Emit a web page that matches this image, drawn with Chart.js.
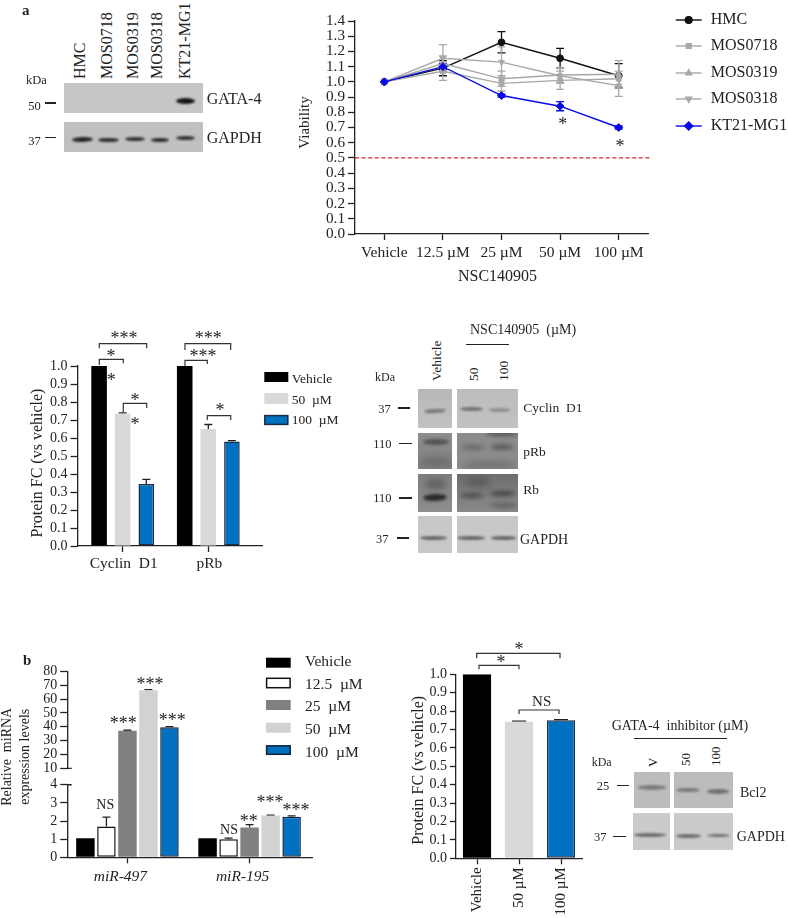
<!DOCTYPE html>
<html><head><meta charset="utf-8">
<script src="https://cdn.jsdelivr.net/npm/chart.js@4"></script>
<style>
html,body{margin:0;padding:0;background:#fff;width:788px;height:918px;overflow:hidden;position:relative;font-family:"Liberation Serif","Times New Roman",serif;color:#222}
canvas{position:absolute;display:block}
.t{position:absolute;white-space:pre;line-height:1;transform:translateY(-50%);opacity:.99}
.r{position:absolute;white-space:pre;line-height:1;transform-origin:0 50%;transform:translateY(-50%) rotate(-90deg)}
.l{position:absolute;background:#222}
.p{position:absolute;overflow:hidden}
.b{position:absolute;border-radius:50%}
</style></head><body>
<script>
/* ---------- data ---------- */
const doseLabels = ['Vehicle','12.5 µM','25 µM','50 µM','100 µM'];
const hmc      = [1.00,1.09,1.26,1.155,1.04];
const hmcErr   = [0,0.05,0.07,0.065,0.08];
const mos0718  = [1.00,1.07,0.99,1.01,1.02];
const mos0718E = [0,0.06,0.05,0.06,0.05];
const mos0319  = [1.00,1.12,1.02,1.045,1.05];
const mos0319E = [0,0.05,0.05,0.05,0.09];
const mos0318  = [1.00,1.155,1.13,1.04,0.975];
const mos0318E = [0,0.09,0.10,0.05,0.07];
const kt21     = [1.00,1.10,0.91,0.84,0.70];
const kt21E    = [0,0.02,0.01,0.03,0.01];
const viabilityThreshold = 0.5;

const proteinGroups = ['Cyclin  D1','pRb'];
const protVehicle = [1.00,1.00], protVehicleE = [0,0];
const prot50      = [0.735,0.65], prot50E = [0.005,0.025];
const prot100     = [0.345,0.58], prot100E = [0.025,0.005];

const mirGroups = ['miR-497','miR-195'];
const mirVehicle = [1.05,1.05], mirVehicleE = [0,0];
const mir125     = [1.70,1.00], mir125E = [0.52,0.06];
const mir25      = [37.2,1.65], mir25E  = [0.3,0.15];
const mir50      = [66.3,2.30], mir50E  = [0.5,0.02];
const mir100     = [39.6,2.23], mir100E = [0.5,0.05];
const mirTicks   = [0,1,2,3,4,10,20,30,40,50,60,70,80];
const mirBreakValues = [0,4,10,80];
const mirBreakFractions = [0,0.39,0.478,1];

const bcl2Labels = ['Vehicle','50 µM','100 µM'];
const bcl2Values = [1.00,0.742,0.75];
const bcl2Errors = [0,0.003,0.004];

/* ---------- setup ---------- */
const FONT='"Liberation Serif","Times New Roman",serif', INK='#222';
Chart.defaults.font.family=FONT; Chart.defaults.color=INK; Chart.defaults.animation=false;
Chart.defaults.responsive=false;
Chart.defaults.plugins.legend.display=false; Chart.defaults.plugins.tooltip.enabled=false;

class BrokenScale extends Chart.LinearScale{
  static id='broken';
  static defaults={};
  buildTicks(){ const t=mirTicks.map(v=>({value:v})); this.min=0; this.max=80; return t; }
  getPixelForValue(v){
    const V=mirBreakValues,F=mirBreakFractions; let i=0;
    while(i<V.length-2&&v>V[i+1]) i++;
    return this.getPixelForDecimal(F[i]+(v-V[i])/(V[i+1]-V[i])*(F[i+1]-F[i]));
  }
}
Chart.register(BrokenScale);

function text(ctx,s,x,y,size,align,style){
  ctx.font=(style?style+' ':'')+size+'px '+FONT; ctx.fillStyle=INK;
  ctx.textAlign=align||'left'; ctx.textBaseline='middle'; ctx.fillText(s,x,y);
}
function star(ctx,s,x,y,size){
  size=size||18; ctx.font=size+'px '+FONT; ctx.fillStyle=INK;
  ctx.textAlign='center'; ctx.textBaseline='alphabetic'; ctx.fillText(s,x,y+0.47*size);
}
function bracket(ctx,x0,x1,y,e0,e1){
  ctx.strokeStyle='#333'; ctx.lineWidth=1.2; ctx.setLineDash([]);
  ctx.beginPath(); ctx.moveTo(x0,e0); ctx.lineTo(x0,y); ctx.lineTo(x1,y); ctx.lineTo(x1,e1); ctx.stroke();
}
function barLegend(ctx,chart,rows,x,w,tx,size){
  chart.data.datasets.forEach((d,i)=>{
    const r=rows[i];
    ctx.fillStyle=d.backgroundColor; ctx.fillRect(x,r[0],w,r[1]);
    if(d.borderWidth){ctx.strokeStyle=d.borderColor;ctx.lineWidth=d.borderWidth;ctx.strokeRect(x+.6,r[0]+.6,w-1.2,r[1]-1.2);}
    text(ctx,d.label.replace(' ','  '),tx,r[2],size);
  });
}
const errorBars={id:'errorBars',beforeDatasetsDraw(chart){
  const ctx=chart.ctx,y=chart.scales.y; ctx.save();
  const idx=chart.data.datasets.map((d,i)=>i).sort((a,b)=>(chart.data.datasets[b].order||0)-(chart.data.datasets[a].order||0));
  idx.forEach(i=>{
    const d=chart.data.datasets[i]; if(!d.errors) return;
    const meta=chart.getDatasetMeta(i), vals=d.values;
    ctx.strokeStyle=d.errorColor||INK; ctx.lineWidth=d.errorWidth||1.3;
    const caps=Array.isArray(d.cap)?d.cap:null;
    meta.data.forEach((el,k)=>{
      const e=d.errors[k]; if(!e) return;
      const x=el.x, hi=y.getPixelForValue(vals[k]+e), lo=d.both?y.getPixelForValue(vals[k]-e):y.getPixelForValue(vals[k]);
      const c=(caps?caps[k]:d.cap||8)/2;
      ctx.beginPath(); ctx.moveTo(x,lo); ctx.lineTo(x,hi);
      ctx.moveTo(x-c,hi); ctx.lineTo(x+c,hi);
      if(d.both){ctx.moveTo(x-c,lo); ctx.lineTo(x+c,lo);}
      ctx.stroke();
    });
  });
  ctx.restore();
}};
function makeChart(c){
  const cv=document.createElement('canvas'); const R=c.rect,P=c.plot;
  cv.width=R.w; cv.height=R.h; cv.style.left=R.l+'px'; cv.style.top=R.t+'px';
  document.body.appendChild(cv);
  const fit=(s)=>{ if(s.isHorizontal()) s.height=c.xH; else s.width=c.yW; };
  c.options.scales.x.afterFit=fit; c.options.scales.y.afterFit=fit;
  c.options.layout={padding:{left:P.l-R.l-c.yW,top:P.t-R.t,right:R.l+R.w-P.r,bottom:R.t+R.h-P.b-c.xH}};
  return new Chart(cv.getContext('2d'),{type:c.type,data:c.data,options:c.options,plugins:[errorBars,{
    id:'page',
    afterLayout(chart){
      const shift=(s,d)=>{ if(!d) return; const o=s.drawTitle;
        s.drawTitle=function(){const k=this.isHorizontal()?['left','right']:['top','bottom'];
          this[k[0]]+=d;this[k[1]]+=d;o.call(this);this[k[0]]-=d;this[k[1]]-=d;}; };
      if(!chart.$shifted){chart.$shifted=1;
        shift(chart.scales.x,c.titleShiftX); shift(chart.scales.y,c.titleShiftY);}
    },
    afterDraw(chart){
      const ctx=chart.ctx;
      if(c.scaleDraw){ctx.save();c.scaleDraw(ctx,chart);ctx.restore();}
      ctx.save();ctx.translate(-R.l,-R.t);c.annotate(ctx,chart);ctx.restore();
    }}]});
}
const axisLine={color:INK,width:1.3};
const grid=(len)=>({drawOnChartArea:false,drawTicks:true,tickLength:len,tickColor:INK,tickWidth:1.3,offset:false});

/* ---------- a: viability ---------- */
const GREY='#a8a8a8';
const lineSet=(label,values,errors,color,style,order,extra)=>Object.assign({label,data:values,values,errors,both:true,cap:8,
  borderColor:color,backgroundColor:color,borderWidth:1.4,pointRadius:3.4,pointStyle:style,pointBorderWidth:1,
  errorColor:color,tension:0,order},extra||{});
makeChart({rect:{l:290,t:0,w:498,h:300},plot:{l:355,t:21,r:648,b:234},yW:59,xH:52.6,titleShiftX:-4,titleShiftY:-5,
 type:'line',
 data:{labels:doseLabels,datasets:[
  lineSet('HMC',hmc,hmcErr,'#111','circle',4),
  lineSet('MOS0718',mos0718,mos0718E,GREY,'rect',3),
  lineSet('MOS0319',mos0319,mos0319E,GREY,'triangle',2),
  lineSet('MOS0318',mos0318,mos0318E,GREY,'triangle',1,{pointRotation:180}),
  lineSet('KT21-MG1',kt21,kt21E,'#0a0ae6','rectRot',0,{pointRadius:4})
 ]},
 options:{scales:{
  x:{type:'category',offset:true,grid:grid(6),border:axisLine,
     ticks:{autoSkip:false,maxRotation:0,padding:4,font:{size:15.5}},
     title:{display:true,text:'NSC140905',font:{size:16},padding:0}},
  y:{min:0,max:1.4,grid:grid(7),border:axisLine,
     ticks:{stepSize:0.1,autoSkip:false,padding:3,font:{size:15.2},callback:v=>Number(v).toFixed(1)},
     title:{display:true,text:'Viability',font:{size:15},padding:0}}
 }},
 scaleDraw(ctx,chart){
  const y=chart.scales.y.getPixelForValue(viabilityThreshold),l=chart.chartArea.left;
  ctx.strokeStyle='#d8222a';ctx.lineWidth=1.2;ctx.setLineDash([4,2.6]);
  ctx.beginPath();ctx.moveTo(l,y);ctx.lineTo(l+297,y);ctx.stroke();
 },
 annotate(ctx,chart){
  star(ctx,'*',562.7,121.7); star(ctx,'*',620,144);
  [20,46,73,99,126].forEach((y,i)=>{
    const d=chart.data.datasets[i];
    ctx.strokeStyle=d.borderColor;ctx.lineWidth=1.4;ctx.setLineDash([]);
    ctx.beginPath();ctx.moveTo(675.7,y);ctx.lineTo(701.7,y);ctx.stroke();
    ctx.fillStyle=d.backgroundColor;
    Chart.helpers.drawPoint(ctx,{pointStyle:d.pointStyle,radius:d.pointRadius,borderWidth:1,rotation:d.pointRotation||0},688.7,y);
    text(ctx,d.label,710.7,y,16);
  });
 }
});

/* ---------- a: protein FC ---------- */
const xy=a=>a.map((y,x)=>({x,y}));
const BLUE='#0070c0',BLUEB='#1a2c48',LG='#d9d9d9',BLK='#000';
const barSet=(label,values,errors,fill,bp,cp,border,extra)=>Object.assign({label,data:xy(values),values,errors,cap:8,
  backgroundColor:fill,borderColor:border||fill,borderWidth:border?1.5:0,borderSkipped:false,barPercentage:bp,categoryPercentage:cp,errorColor:'#222'},extra||{});
makeChart({rect:{l:10,t:320,w:350,h:260},plot:{l:78,t:366,r:262,b:546},yW:49.6,xH:35,titleShiftY:7,
 type:'bar',
 data:{datasets:[
  barSet('Vehicle',protVehicle,protVehicleE,BLK,.66,.827),
  barSet('50 µM',prot50,prot50E,LG,.66,.827),
  barSet('100 µM',prot100,prot100E,BLUE,.66,.827,BLUEB)
 ]},
 options:{scales:{
  x:{type:'linear',offset:false,min:-0.522,max:1.627,grid:grid(6),border:axisLine,
     ticks:{stepSize:1,includeBounds:false,autoSkip:false,maxRotation:0,padding:3,font:{size:15.5},labelOffset:1,callback:v=>proteinGroups[v]}},
  y:{min:0,max:1,grid:grid(7.5),border:axisLine,
     ticks:{stepSize:0.1,autoSkip:false,padding:3,font:{size:14},callback:v=>Number(v).toFixed(1)},
     title:{display:true,text:'Protein FC (vs vehicle)',font:{size:16},padding:0}}
 }},
 scaleDraw(){},
 annotate(ctx,chart){
  bracket(ctx,99.3,146.7,343.7,348.3,348.3); star(ctx,'***',124,335.7);
  bracket(ctx,99.3,123.3,359.3,365,363.3);   star(ctx,'*',111,354);
  star(ctx,'*',111.3,378);
  bracket(ctx,123.3,146.7,403.3,412,408);    star(ctx,'*',135,397.7);
  star(ctx,'*',135,421.7);
  bracket(ctx,185,230.7,343.7,350,350);      star(ctx,'***',208.3,335.7);
  bracket(ctx,185,207.3,360.3,366,364);      star(ctx,'***',203,354);
  bracket(ctx,207.3,230.7,415.7,420,420);    star(ctx,'*',220,408);
  barLegend(ctx,chart,[[372,10,379],[393,11,400],[415,10,420.7]],264.3,24,291.7,13.5);
 }
});

/* ---------- b: miRNA ---------- */
const mb=(l,v,e,f,b)=>barSet(l,v,e,f,.88,.86,b);
makeChart({rect:{l:-10,t:640,w:390,h:270},plot:{l:67.7,t:671.3,r:312.5,b:857.3},yW:69.5,xH:35,titleShiftY:-7.5,
 type:'bar',
 data:{datasets:[
  mb('Vehicle',mirVehicle,mirVehicleE,BLK),
  mb('12.5 µM',mir125,mir125E,'#fff','#111'),
  mb('25 µM',mir25,mir25E,'#808080'),
  mb('50 µM',mir50,mir50E,'#d2d2d2'),
  mb('100 µM',mir100,mir100E,BLUE,'#10223c')
 ]},
 options:{scales:{
  x:{type:'linear',offset:false,min:-0.489,max:1.515,grid:grid(6),border:axisLine,
     ticks:{stepSize:1,includeBounds:false,autoSkip:false,maxRotation:0,padding:4,font:{size:15.5,style:'italic'},labelOffset:-7,callback:v=>mirGroups[v]}},
  y:{type:'broken',min:0,max:80,grid:grid(7.5),border:{display:false},
     ticks:{autoSkip:false,padding:3,font:{size:14},callback:v=>String(v)},
     title:{display:true,text:['Relative  miRNA','expression levels'],font:{size:14,lineHeight:1.31},padding:0}}
 }},
 scaleDraw(ctx,chart){
  const y=chart.scales.y,l=chart.chartArea.left;
  ctx.strokeStyle=INK;ctx.lineWidth=1.3;ctx.beginPath();
  ctx.moveTo(l,y.getPixelForValue(mirBreakValues[0]));ctx.lineTo(l,y.getPixelForValue(mirBreakValues[1]));ctx.lineTo(l+4,y.getPixelForValue(mirBreakValues[1]));
  ctx.moveTo(l+4,y.getPixelForValue(mirBreakValues[2]));ctx.lineTo(l,y.getPixelForValue(mirBreakValues[2]));ctx.lineTo(l,y.getPixelForValue(mirBreakValues[3]));
  ctx.stroke();
 },
 annotate(ctx,chart){
  star(ctx,'***',123.3,721); star(ctx,'***',150,681.7); star(ctx,'***',172.3,717.7);
  text(ctx,'NS',105.3,805.7,14,'center'); text(ctx,'NS',229,830.7,14,'center');
  star(ctx,'**',248.7,818.3); star(ctx,'***',270,800); star(ctx,'***',296,807.7);
  barLegend(ctx,chart,[[657.7,10,662],[677.7,10.6,685],[700,10,707.3],[722.7,10,730],[745.3,9.6,752.7]],266,24.7,305,15.5);
 }
});

/* ---------- b: Bcl2 FC ---------- */
makeChart({rect:{l:400,t:630,w:190,h:288},plot:{l:456,t:674.3,r:582,b:858.3},yW:46.6,xH:59,titleShiftY:4,
 type:'bar',
 data:{labels:bcl2Labels,datasets:[{label:'Bcl2',data:bcl2Values,values:bcl2Values,errors:bcl2Errors,cap:[0,14,14],
  backgroundColor:[BLK,LG,BLUE],borderColor:[BLK,LG,BLUEB],borderWidth:[0,0,1.5],borderSkipped:false,
  barPercentage:.67,categoryPercentage:1,errorColor:'#222'}]},
 options:{scales:{
  x:{type:'category',offset:true,grid:grid(6),border:axisLine,
     ticks:{autoSkip:false,minRotation:90,maxRotation:90,padding:3,font:{size:15}}},
  y:{min:0,max:1,grid:grid(6),border:axisLine,
     ticks:{stepSize:0.1,autoSkip:false,padding:3,font:{size:14},callback:v=>Number(v).toFixed(1)},
     title:{display:true,text:'Protein FC (vs vehicle)',font:{size:16},padding:0}}
 }},
 annotate(ctx){
  bracket(ctx,476.7,560,653.3,658.3,658.3); star(ctx,'*',519,646.7);
  bracket(ctx,479,519,665.3,669.3,669.3);   star(ctx,'*',501,659.3);
  bracket(ctx,519,559,710,714,714);         text(ctx,'NS',541.7,702.3,15,'center');
 }
});

/* ---------- blots and figure text ---------- */
function el(cls,css,html,parent){const e=document.createElement('div');e.className=cls;e.style.cssText=css;if(html!=null)e.textContent=html;(parent||document.body).appendChild(e);return e;}
const T=(s,x,y,size,bold)=>el('t',`left:${x}px;top:${y}px;font-size:${size}px;${bold?'font-weight:bold;':''}`,s);
const V=(s,cx,bottom,size)=>el('r',`left:${cx}px;top:${bottom}px;font-size:${size}px;`,s);
const H=(x0,x1,y,w)=>el('l',`left:${x0}px;top:${y-(w||1.3)/2}px;width:${x1-x0}px;height:${w||1.3}px;`);
// panel: x0,x1,y0,y1,background; band: x0,x1,yCenter,thickness,colour,blur,tilt
function blot(x0,x1,y0,y1,bg,bands){
  const p=el('p',`left:${x0}px;top:${y0}px;width:${x1-x0}px;height:${y1-y0}px;background:${bg};`);
  bands.forEach(b=>el('b',`left:${b[0]-x0}px;top:${b[2]-b[3]/2-y0}px;width:${b[1]-b[0]}px;height:${b[3]}px;background:${b[4]};filter:blur(${b[5]==null?1:b[5]}px);transform:rotate(${b[6]||0}deg);`,null,p));
}
T('a',22,10,15,true); T('b',23,660,15,true);

// GATA-4 / GAPDH
blot(64,203.3,82.7,112.7,'#c6c6c6',[[175.5,194.5,101,6,'#161616',.9]]);
blot(64,203.3,121.7,151.7,'#c0c0c0',[[72,93,139.3,5,'#252525',.9,-2],[98,119,140,4.5,'#2e2e2e',.9],[125,145,139,4,'#303030',.9],[151,169,140,4.5,'#2e2e2e',.9],[175.5,195,138,4,'#333',.9]]);
[['HMC',80],['MOS0718',106.7],['MOS0319',132.7],['MOS0318',157.3],['KT21-MG1',185]].forEach(a=>V(a[0],a[1],79.3,16));
T('kDa',26,80,12.5); T('50',28.3,106,12.5); T('37',28.3,140.7,12.5);
H(45,56,103); H(45,56,137.3);
T('GATA-4',206.7,99.3,16); T('GAPDH',206.7,138.3,16);

// Cyclin D1 / pRb / Rb / GAPDH
const g=(a,b)=>`linear-gradient(${a},${b})`;
blot(417.7,451.7,389.3,428.3,g('#b8b8b8','#c2c2c2'),[[424,445.5,411,4.2,'#787878',1.2,-3]]);
blot(457.3,518.3,389.3,428.3,g('#bcbcbc','#c2c2c2'),[[460,483,409.5,4,'#747474',1.2],[489.5,510,410,3.5,'#8e8e8e',1.2]]);
blot(418,451.7,433.3,469.3,g('#8e8e8e','#7e7e7e'),[[423,449,442.3,6,'#525252',1.6],[420,452,462,10,'#6e6e6e',3]]);
blot(457.3,518.3,433.3,469.3,g('#8c8c8c','#8c8c8c'),[[461,485,447.5,5,'#686868',2],[490,514,447.5,6,'#5c5c5c',2],[486,518,433,5,'#505050',2],[461,518,465,8,'#727272',3]]);
blot(417.7,451.7,474.3,511.7,g('#7e7e7e','#8e8e8e'),[[423,447,497.5,7,'#2a2a2a',1.6,-2],[425,446,484,10,'#606060',3]]);
blot(456.7,518.3,474.3,511.7,g('#6e6e6e','#8a8a8a'),[[460,484,495.5,5,'#4c4c4c',2],[490,515,494,5,'#444',2],[465,490,482,10,'#5c5c5c',3],[490,518,506,5,'#626262',2]]);
blot(417.7,451.7,515.7,552.7,'#c8c8c8',[[420,447.5,538,4,'#686868',1]]);
blot(456.7,518.3,515.7,552.7,'#c8c8c8',[[457.5,485,538.3,4,'#686868',1],[491,516,538.3,3.6,'#686868',1]]);
V('Vehicle',436.7,381,13.5); V('50',474.3,381,13.5); V('100',504.3,381,13.5);
T('NSC140905  (µM)',470,330,14); H(466,509,344.3,1.5);
T('kDa',375,376.7,12); T('37',378.3,409,12.5); T('110',373.3,444,12.5); T('110',373.3,498.3,12.5); T('37',376,539,12.5);
H(398.3,410,408); H(399.3,411.7,443.3); H(399.3,411.7,498); H(397.3,409,538);
T('Cyclin  D1',523.3,407.7,13.5); T('pRb',523.3,452.3,13.5); T('Rb',523.3,490.3,13.5); T('GAPDH',520,539.7,14);

// Bcl2 / GAPDH
blot(634,670,771.7,808.3,'#bcbcbc',[[638,666,787.3,4.5,'#7c7c7c',1.2]]);
blot(674,732.7,771.7,808.3,'#bcbcbc',[[676,699.5,789.7,4,'#7a7a7a',1.2],[706.5,728.5,791.3,4.5,'#707070',1.2]]);
blot(632.7,670,813.3,850,'#cbcbcb',[[634.5,666,835.3,4,'#6e6e6e',1]]);
blot(674,732.7,813.3,850,'#cbcbcb',[[675.5,701,835.7,4,'#6e6e6e',1],[707,730,835.7,3.6,'#727272',1]]);
T('GATA-4  inhibitor (µM)',611.7,726,14); H(634.3,726.7,738.3,1.2);
V('V',651.7,766.7,13); V('50',685,765.7,13); V('100',715,765.7,13);
T('kDa',591.7,762,12); T('25',596.7,786,12.5); T('37',594,837.3,12.5);
H(616.7,629,785.3); H(613.3,625.7,836.7);
T('Bcl2',740,793.3,14); T('GAPDH',736.7,837.3,14);
</script>
</body></html>
